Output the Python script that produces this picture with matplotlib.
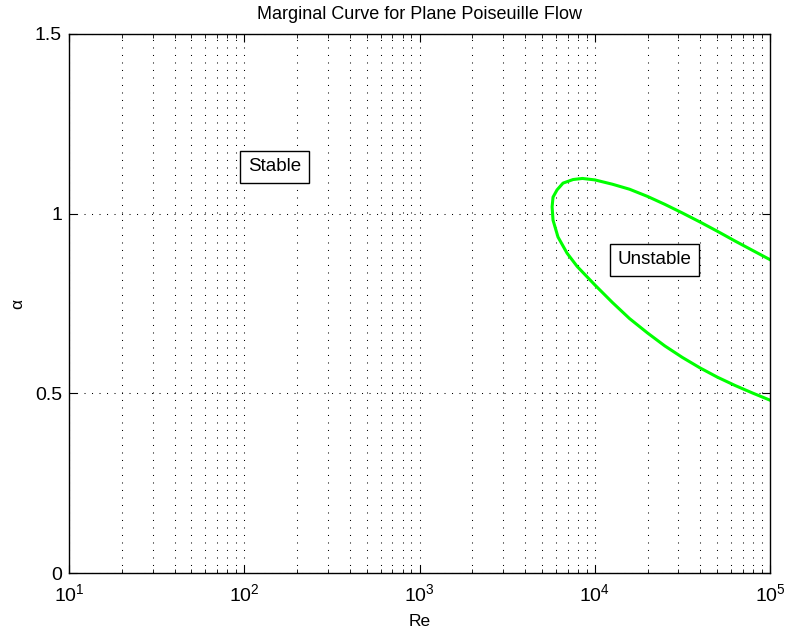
import numpy as np
import matplotlib.pyplot as plt
from matplotlib.ticker import LogLocator, NullFormatter

plt.rcParams['font.family'] = ['Liberation Sans', 'DejaVu Sans']
plt.rcParams['mathtext.fontset'] = 'custom'
plt.rcParams['mathtext.rm'] = 'Liberation Sans'
plt.rcParams['mathtext.it'] = 'Liberation Sans'

# neutral curve: lower branch in towards the nose, then back out along the upper branch
re_vals = [1.0e5, 7.94e4, 6.31e4, 5.01e4, 3.98e4, 3.16e4, 2.51e4, 2.0e4,
           1.58e4, 1.26e4, 1.0e4, 7.94e3, 6.95e3, 6.17e3, 5.78e3, 5.71e3,
           5.78e3, 6.09e3, 6.59e3, 7.52e3, 8.5e3, 1.0e4, 1.26e4, 1.58e4,
           2.0e4, 2.51e4, 3.16e4, 3.98e4, 5.01e4, 6.31e4, 7.94e4, 1.0e5]
alpha_vals = [0.481, 0.501, 0.522, 0.545, 0.571, 0.600, 0.632, 0.668,
              0.708, 0.753, 0.802, 0.853, 0.89, 0.935, 0.982, 1.019,
              1.046, 1.066, 1.085, 1.095, 1.098, 1.094, 1.082, 1.068,
              1.048, 1.026, 1.002, 0.977, 0.951, 0.924, 0.898, 0.872]

fig = plt.figure(figsize=(7.86, 6.34), dpi=100)
ax = fig.add_axes([69/786, 1 - 573/634, 701/786, 539/634])

ax.plot(re_vals, alpha_vals, color='#00ff00', lw=2.2, solid_joinstyle='round')

ax.set_xscale('log')
ax.set_xlim(1e1, 1e5)
ax.set_ylim(0, 1.5)
ax.set_yticks([0, 0.5, 1, 1.5])
ax.set_yticklabels(['0', '0.5', '1', '1.5'])
ax.xaxis.set_minor_locator(LogLocator(base=10, subs=np.arange(2, 10)))
ax.xaxis.set_minor_formatter(NullFormatter())

dots = (0, (1, 6.2))
ax.grid(True, which='major', axis='both', color='black', linestyle=dots, lw=0.75)
ax.grid(True, which='minor', axis='x', color='black', linestyle=dots, lw=0.75)

ax.tick_params(which='both', direction='in', top=True, right=True, labelsize=14)
ax.tick_params(axis='x', which='both', pad=7)
ax.tick_params(axis='y', which='both', pad=5)
ax.tick_params(which='major', length=6)
ax.tick_params(which='minor', length=3)
for s in ax.spines.values():
    s.set_linewidth(1.0)

ax.text(105, 1.13, 'Stable', fontsize=13.5, va='center', ha='left',
        bbox=dict(boxstyle='square,pad=0.4', fc='white', ec='black', lw=1))
ax.text(1.35e4, 0.872, 'Unstable', fontsize=13.5, va='center', ha='left',
        bbox=dict(boxstyle='square,pad=0.4', fc='white', ec='black', lw=1))

ax.set_title('Marginal Curve for Plane Poiseuille Flow', fontsize=13, pad=11)
ax.set_xlabel('Re', fontsize=12.5)
ax.set_ylabel('α', fontsize=12.5)
ax.xaxis.set_label_coords(0.5, -0.076)
ax.yaxis.set_label_coords(-0.063, 0.5)

fig.savefig('out.png', dpi=100)
